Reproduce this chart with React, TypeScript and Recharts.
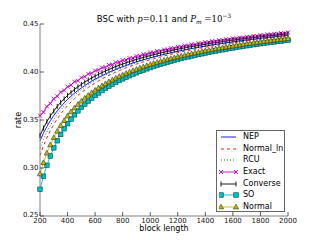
import React from 'react';
import { LineChart, Line, XAxis, YAxis, Legend } from 'recharts';

const SANS = '"DejaVu Sans", Verdana, sans-serif';
const SERIF = '"DejaVu Serif", serif';

const blockLength = [
  200, 225, 250, 275, 300, 325, 350, 375, 400, 425,
  450, 475, 500, 525, 550, 575, 600, 625, 650, 675,
  700, 725, 750, 775, 800, 825, 850, 875, 900, 925,
  950, 975, 1000, 1025, 1050, 1075, 1100, 1125, 1150, 1175,
  1200, 1225, 1250, 1275, 1300, 1325, 1350, 1375, 1400, 1425,
  1450, 1475, 1500, 1525, 1550, 1575, 1600, 1625, 1650, 1675,
  1700, 1725, 1750, 1775, 1800, 1825, 1850, 1875, 1900, 1925,
  1950, 1975, 2000,
];

const nep = [
  0.3283, 0.3363, 0.3432, 0.3493, 0.3547, 0.3595, 0.3638, 0.3678, 0.3715, 0.3748,
  0.3779, 0.3807, 0.3834, 0.3859, 0.3882, 0.3904, 0.3925, 0.3944, 0.3962, 0.3980,
  0.3996, 0.4012, 0.4027, 0.4042, 0.4055, 0.4068, 0.4081, 0.4093, 0.4105, 0.4116,
  0.4127, 0.4137, 0.4147, 0.4157, 0.4166, 0.4175, 0.4184, 0.4192, 0.4200, 0.4208,
  0.4216, 0.4223, 0.4230, 0.4238, 0.4244, 0.4251, 0.4258, 0.4264, 0.4270, 0.4276,
  0.4282, 0.4287, 0.4293, 0.4299, 0.4304, 0.4309, 0.4314, 0.4319, 0.4324, 0.4329,
  0.4333, 0.4338, 0.4342, 0.4347, 0.4351, 0.4355, 0.4359, 0.4363, 0.4367, 0.4371,
  0.4375, 0.4379, 0.4383,
];

const normalLn = [
  0.3129, 0.3230, 0.3315, 0.3389, 0.3454, 0.3511, 0.3562, 0.3608, 0.3650, 0.3688,
  0.3723, 0.3756, 0.3786, 0.3813, 0.3839, 0.3864, 0.3886, 0.3908, 0.3928, 0.3947,
  0.3965, 0.3983, 0.3999, 0.4014, 0.4029, 0.4044, 0.4057, 0.4070, 0.4083, 0.4095,
  0.4106, 0.4117, 0.4128, 0.4138, 0.4148, 0.4157, 0.4167, 0.4176, 0.4184, 0.4193,
  0.4201, 0.4209, 0.4216, 0.4224, 0.4231, 0.4238, 0.4245, 0.4252, 0.4258, 0.4264,
  0.4270, 0.4276, 0.4282, 0.4288, 0.4294, 0.4299, 0.4304, 0.4309, 0.4315, 0.4320,
  0.4324, 0.4329, 0.4334, 0.4338, 0.4343, 0.4347, 0.4351, 0.4356, 0.4360, 0.4364,
  0.4368, 0.4372, 0.4375,
];

const rcu = [
  0.3204, 0.3296, 0.3375, 0.3443, 0.3504, 0.3557, 0.3605, 0.3648, 0.3688, 0.3724,
  0.3757, 0.3787, 0.3816, 0.3842, 0.3867, 0.3890, 0.3911, 0.3932, 0.3951, 0.3969,
  0.3987, 0.4003, 0.4019, 0.4034, 0.4048, 0.4062, 0.4075, 0.4087, 0.4099, 0.4111,
  0.4122, 0.4132, 0.4143, 0.4153, 0.4162, 0.4171, 0.4180, 0.4189, 0.4197, 0.4205,
  0.4213, 0.4221, 0.4228, 0.4236, 0.4243, 0.4249, 0.4256, 0.4262, 0.4269, 0.4275,
  0.4281, 0.4287, 0.4292, 0.4298, 0.4303, 0.4308, 0.4314, 0.4319, 0.4324, 0.4328,
  0.4333, 0.4338, 0.4342, 0.4347, 0.4351, 0.4355, 0.4359, 0.4364, 0.4368, 0.4372,
  0.4375, 0.4379, 0.4383,
];

const exact = [
  0.3545, 0.3582, 0.3641, 0.3672, 0.3722, 0.3747, 0.3790, 0.3808, 0.3846, 0.3863,
  0.3898, 0.3909, 0.3941, 0.3951, 0.3980, 0.3988, 0.4014, 0.4021, 0.4046, 0.4050,
  0.4074, 0.4078, 0.4100, 0.4103, 0.4123, 0.4126, 0.4145, 0.4147, 0.4165, 0.4167,
  0.4184, 0.4186, 0.4202, 0.4203, 0.4218, 0.4219, 0.4234, 0.4234, 0.4248, 0.4248,
  0.4262, 0.4262, 0.4275, 0.4275, 0.4288, 0.4286, 0.4299, 0.4298, 0.4310, 0.4309,
  0.4321, 0.4319, 0.4331, 0.4329, 0.4341, 0.4338, 0.4350, 0.4347, 0.4359, 0.4356,
  0.4367, 0.4364, 0.4375, 0.4373, 0.4383, 0.4380, 0.4391, 0.4388, 0.4398, 0.4395,
  0.4405, 0.4402, 0.4412,
];

const converse = [
  0.3338, 0.3416, 0.3483, 0.3542, 0.3594, 0.3641, 0.3683, 0.3721, 0.3756, 0.3788,
  0.3818, 0.3845, 0.3871, 0.3895, 0.3917, 0.3938, 0.3958, 0.3977, 0.3994, 0.4011,
  0.4027, 0.4042, 0.4056, 0.4070, 0.4083, 0.4096, 0.4108, 0.4119, 0.4131, 0.4141,
  0.4152, 0.4161, 0.4171, 0.4180, 0.4189, 0.4198, 0.4206, 0.4214, 0.4222, 0.4230,
  0.4237, 0.4244, 0.4251, 0.4258, 0.4265, 0.4271, 0.4277, 0.4283, 0.4289, 0.4295,
  0.4301, 0.4306, 0.4311, 0.4317, 0.4322, 0.4327, 0.4332, 0.4336, 0.4341, 0.4346,
  0.4350, 0.4355, 0.4359, 0.4363, 0.4367, 0.4371, 0.4375, 0.4379, 0.4383, 0.4387,
  0.4390, 0.4394, 0.4397,
];

const so = [
  0.2778, 0.2914, 0.3028, 0.3125, 0.3210, 0.3284, 0.3350, 0.3409, 0.3462, 0.3510,
  0.3554, 0.3595, 0.3632, 0.3666, 0.3698, 0.3728, 0.3756, 0.3782, 0.3807, 0.3830,
  0.3852, 0.3873, 0.3893, 0.3911, 0.3929, 0.3946, 0.3962, 0.3978, 0.3992, 0.4007,
  0.4020, 0.4033, 0.4046, 0.4058, 0.4070, 0.4081, 0.4092, 0.4102, 0.4112, 0.4122,
  0.4132, 0.4141, 0.4150, 0.4158, 0.4167, 0.4175, 0.4183, 0.4190, 0.4198, 0.4205,
  0.4212, 0.4219, 0.4226, 0.4232, 0.4239, 0.4245, 0.4251, 0.4257, 0.4263, 0.4268,
  0.4274, 0.4279, 0.4285, 0.4290, 0.4295, 0.4300, 0.4305, 0.4310, 0.4314, 0.4319,
  0.4323, 0.4328, 0.4332,
];

const normal = [
  0.2938, 0.3056, 0.3156, 0.3242, 0.3317, 0.3383, 0.3441, 0.3494, 0.3542, 0.3586,
  0.3625, 0.3662, 0.3696, 0.3727, 0.3757, 0.3784, 0.3810, 0.3834, 0.3856, 0.3878,
  0.3898, 0.3917, 0.3935, 0.3953, 0.3969, 0.3985, 0.4000, 0.4014, 0.4028, 0.4041,
  0.4054, 0.4066, 0.4078, 0.4089, 0.4100, 0.4111, 0.4121, 0.4131, 0.4140, 0.4149,
  0.4158, 0.4167, 0.4175, 0.4183, 0.4191, 0.4199, 0.4206, 0.4214, 0.4221, 0.4227,
  0.4234, 0.4241, 0.4247, 0.4253, 0.4259, 0.4265, 0.4271, 0.4277, 0.4282, 0.4288,
  0.4293, 0.4298, 0.4303, 0.4308, 0.4313, 0.4317, 0.4322, 0.4327, 0.4331, 0.4335,
  0.4340, 0.4344, 0.4348,
];

const xTicks = [200, 400, 600, 800, 1000, 1200, 1400, 1600, 1800, 2000];
const yTicks = [0.25, 0.3, 0.35, 0.4, 0.45];

const seriesKeys = ['nep', 'normalLn', 'rcu', 'exact', 'converse', 'so', 'normal'];
const seriesNames = ['NEP', 'Normal_ln', 'RCU', 'Exact', 'Converse', 'SO', 'Normal'];

const data = blockLength.map((n, i) => ({
  n,
  nep: nep[i],
  normalLn: normalLn[i],
  rcu: rcu[i],
  exact: exact[i],
  converse: converse[i],
  so: so[i],
  normal: normal[i],
}));

const FRAME = '#808080';

const BottomTick = (props: any) => {
  const { x, y, payload } = props;
  return (
    <g>
      <line x1={x} x2={x} y1={y} y2={y - 4} stroke="#333" strokeWidth={0.8} />
      <text x={x} y={y + 4.5} textAnchor="middle" dominantBaseline="central" fontSize={7} fontFamily={SANS} fill="#111">
        {payload.value}
      </text>
    </g>
  );
};

const TopTick = (props: any) => {
  const { x, y } = props;
  return <line x1={x} x2={x} y1={y} y2={y + 4} stroke="#333" strokeWidth={0.8} />;
};

const LeftTick = (props: any) => {
  const { x, y, payload } = props;
  return (
    <g>
      <line x1={x} x2={x + 4} y1={y} y2={y} stroke="#333" strokeWidth={0.8} />
      <text x={x - 1.5} y={y - (payload.value === 0.25 ? 1.5 : 0)} textAnchor="end" dominantBaseline="central" fontSize={7} fontFamily={SANS} fill="#111">
        {Number(payload.value).toFixed(2)}
      </text>
    </g>
  );
};

const RightTick = (props: any) => {
  const { x, y } = props;
  return <line x1={x} x2={x - 4} y1={y} y2={y} stroke="#333" strokeWidth={0.8} />;
};

const XLabel = (props: any) => {
  const vb = props.viewBox || { x: 40, y: 216, width: 248 };
  return (
    <text x={vb.x + vb.width / 2} y={vb.y + 12.5} textAnchor="middle" dominantBaseline="central" fontSize={8} fontFamily={SANS} fill="#000">
      block length
    </text>
  );
};

const YLabel = (props: any) => {
  const vb = props.viewBox || { x: 0, y: 24, width: 40, height: 192 };
  const x = vb.x + 18;
  const y = vb.y + vb.height / 2;
  return (
    <text x={x} y={y} transform={`rotate(-90 ${x} ${y})`} textAnchor="middle" dominantBaseline="central" fontSize={8} fontFamily={SANS} fill="#000">
      rate
    </text>
  );
};

const xMark = (cx: number, cy: number, color: string, k?: any) => (
  <path key={k} d={`M${cx - 2},${cy - 2}L${cx + 2},${cy + 2}M${cx - 2},${cy + 2}L${cx + 2},${cy - 2}`} stroke={color} strokeWidth={0.9} fill="none" />
);
const vMark = (cx: number, cy: number, color: string, k?: any) => (
  <path key={k} d={`M${cx},${cy - 2.5}L${cx},${cy + 2.5}`} stroke={color} strokeWidth={0.9} fill="none" />
);
const sqMark = (cx: number, cy: number, color: string, k?: any) => (
  <rect key={k} x={cx - 2.3} y={cy - 2.3} width={4.6} height={4.6} fill={color} stroke="#004f4f" strokeWidth={0.6} />
);
const triMark = (cx: number, cy: number, color: string, k?: any) => (
  <polygon key={k} points={`${cx},${cy - 2.8} ${cx - 2.6},${cy + 1.9} ${cx + 2.6},${cy + 1.9}`} fill={color} stroke="#333" strokeWidth={0.6} />
);

const makeDot = (fn: typeof xMark, color: string) => (p: any) => {
  if (p == null || p.cx == null || p.cy == null) return <g key={`e-${p?.index}`} />;
  return fn(p.cx, p.cy, color, `d-${p.index}`);
};

const styles: Record<string, any> = {
  nep: { color: '#0000ff', dash: undefined, mark: null },
  normalLn: { color: '#ff0000', dash: '3 3', mark: null },
  rcu: { color: '#008000', dash: '1 2', mark: null },
  exact: { color: '#bf00bf', dash: undefined, mark: xMark },
  converse: { color: '#000000', dash: undefined, mark: vMark },
  so: { color: '#00bfbf', dash: undefined, mark: sqMark },
  normal: { color: '#bfbf00', dash: undefined, mark: triMark },
};

const LegendBox = () => (
  <div style={{ width: '100%', height: '100%', boxSizing: 'border-box', border: '1px solid #666', background: '#fff', paddingTop: 0.5 }}>
    {seriesKeys.map((key, i) => {
      const st = styles[key];
      return (
        <div key={key} style={{ height: 11.6, display: 'flex', alignItems: 'center' }}>
          <svg width={22} height={10} style={{ marginLeft: 2, display: 'block' }}>
            <line x1={2} x2={17} y1={5} y2={5} stroke={st.color} strokeWidth={0.9} strokeDasharray={st.dash} />
            {st.mark ? st.mark(2, 5, st.color, 'a') : null}
            {st.mark ? st.mark(17, 5, st.color, 'b') : null}
          </svg>
          <span style={{ marginLeft: 2, fontSize: 8, fontFamily: SANS, color: '#000', lineHeight: '10px', whiteSpace: 'nowrap' }}>{seriesNames[i]}</span>
        </div>
      );
    })}
  </div>
);

const Title = () => (
  <div
    style={{
      position: 'absolute', left: 40, top: 10, width: 248, textAlign: 'center',
      fontFamily: SANS, fontSize: 8.5, lineHeight: '12px', color: '#000', whiteSpace: 'nowrap',
    }}
  >
    BSC with <span style={{ fontFamily: SERIF, fontStyle: 'italic' }}>p</span>
    <span style={{ fontFamily: SERIF }}>=0.11</span> and{' '}
    <span style={{ fontFamily: SERIF, fontStyle: 'italic' }}>P</span>
    <span style={{ fontFamily: SERIF, fontStyle: 'italic', fontSize: 6, verticalAlign: -2 }}>m</span>
    <span style={{ fontFamily: SERIF }}> =10</span>
    <span style={{ fontFamily: SERIF, fontSize: 6, verticalAlign: 4 }}>−3</span>
  </div>
);

export default function App() {
  return (
    <div style={{ position: 'absolute', left: 0, top: 0, width: 320, height: 240, background: '#fff' }}>
      <LineChart width={320} height={240} data={data} margin={{ top: 24, right: 32, bottom: 0, left: 0 }}>
        <XAxis
          dataKey="n"
          type="number"
          domain={[200, 2000]}
          ticks={xTicks}
          interval={0}
          height={24}
          tickSize={0}
          tickMargin={0}
          tick={<BottomTick />}
          tickLine={false}
          axisLine={{ stroke: FRAME, strokeWidth: 1 }}
          label={{ content: <XLabel /> }}
        />
        <XAxis
          xAxisId="top"
          orientation="top"
          dataKey="n"
          type="number"
          domain={[200, 2000]}
          ticks={xTicks}
          interval={0}
          height={0}
          tickSize={0}
          tickMargin={0}
          tick={<TopTick />}
          tickLine={false}
          axisLine={{ stroke: FRAME, strokeWidth: 1 }}
        />
        <YAxis
          type="number"
          domain={[0.25, 0.45]}
          ticks={yTicks}
          interval={0}
          width={40}
          tickSize={0}
          tickMargin={0}
          tick={<LeftTick />}
          tickLine={false}
          axisLine={{ stroke: FRAME, strokeWidth: 1 }}
          label={{ content: <YLabel /> }}
        />
        <YAxis
          yAxisId="right"
          orientation="right"
          type="number"
          domain={[0.25, 0.45]}
          ticks={yTicks}
          interval={0}
          width={0}
          tickSize={0}
          tickMargin={0}
          tick={<RightTick />}
          tickLine={false}
          axisLine={{ stroke: FRAME, strokeWidth: 1 }}
        />
        <Legend
          layout="horizontal"
          verticalAlign="middle"
          align="center"
          content={<LegendBox />}
          wrapperStyle={{ position: 'absolute', left: 216, top: 130, width: 69, height: 82, margin: 0, padding: 0 }}
        />
        <Line dataKey="nep" name="NEP" stroke="#0000ff" strokeWidth={0.9} dot={false} activeDot={false} isAnimationActive={false} />
        <Line dataKey="normalLn" name="Normal_ln" stroke="#ff0000" strokeDasharray="3 3" strokeWidth={0.9} dot={false} activeDot={false} isAnimationActive={false} />
        <Line dataKey="rcu" name="RCU" stroke="#008000" strokeDasharray="1 2" strokeWidth={0.9} dot={false} activeDot={false} isAnimationActive={false} />
        <Line dataKey="exact" name="Exact" stroke="#bf00bf" strokeWidth={0.9} dot={makeDot(xMark, '#bf00bf')} activeDot={false} isAnimationActive={false} />
        <Line dataKey="converse" name="Converse" stroke="#000000" strokeWidth={0.9} dot={makeDot(vMark, '#000000')} activeDot={false} isAnimationActive={false} />
        <Line dataKey="so" name="SO" stroke="#00bfbf" strokeWidth={0.9} dot={makeDot(sqMark, '#00bfbf')} activeDot={false} isAnimationActive={false} />
        <Line dataKey="normal" name="Normal" stroke="#bfbf00" strokeWidth={0.9} dot={makeDot(triMark, '#bfbf00')} activeDot={false} isAnimationActive={false} />
      </LineChart>
      <Title />
    </div>
  );
}
